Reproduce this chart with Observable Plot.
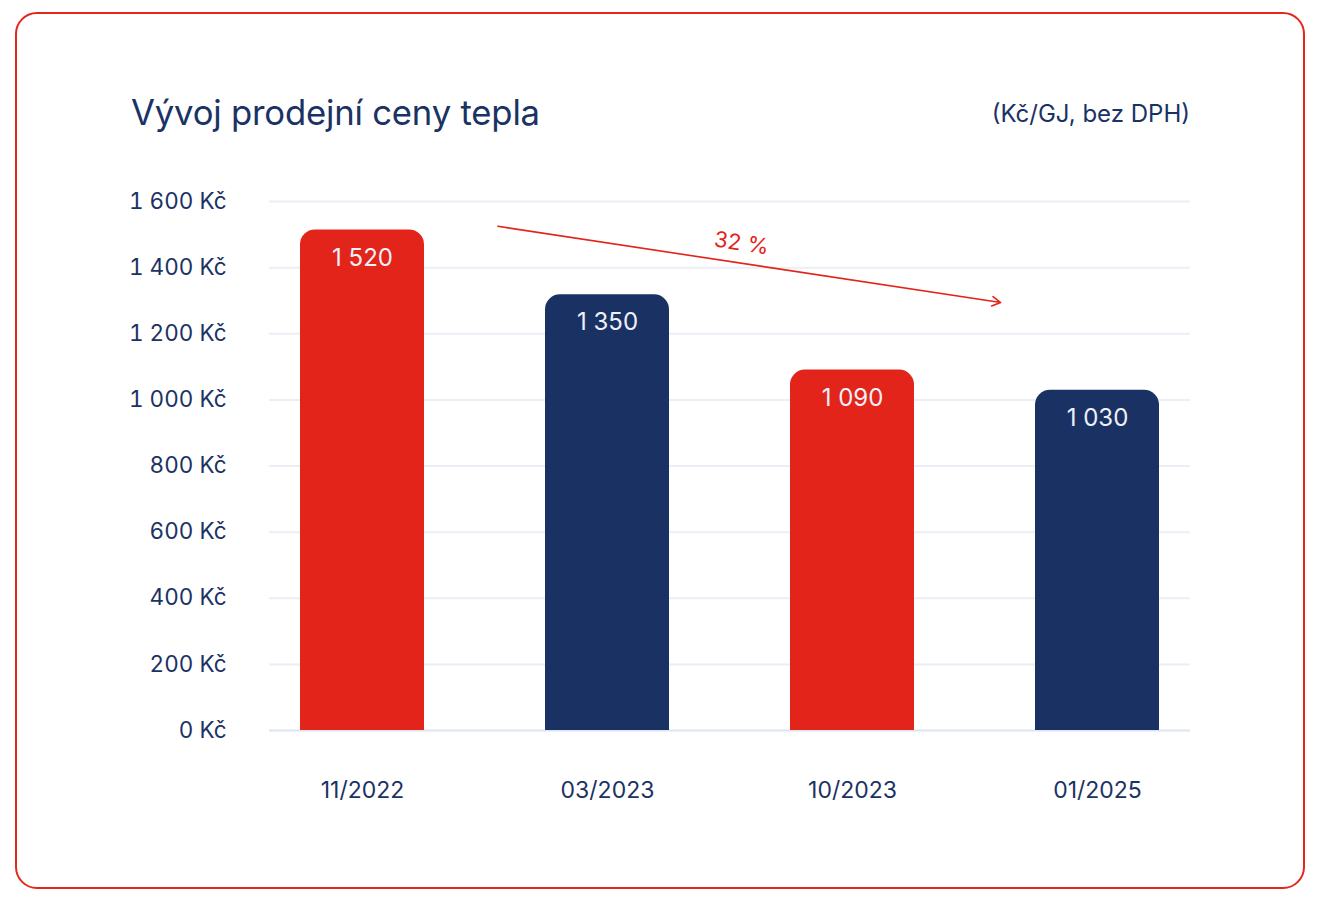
<!DOCTYPE html>
<html>
<head>
<meta charset="utf-8">
<script src="https://cdn.jsdelivr.net/npm/d3@7"></script>
<script src="https://cdn.jsdelivr.net/npm/@observablehq/plot@0.6"></script>
<style>
  html, body { margin: 0; padding: 0; background: #fff; }
  body { width: 1320px; height: 900px; position: relative; overflow: hidden; font-family: Inter, "Noto Sans", sans-serif; }
  #frame { position: absolute; left: 15px; top: 12px; width: 1286px; height: 873px; border: 2px solid #e5261a; border-radius: 22px; }
  #title { position: absolute; left: 131px; top: 91px; font-size: 34.7px; color: #1b3264; font-weight: 400; letter-spacing: -0.2px; }
  #unit { position: absolute; right: 130px; top: 99px; font-size: 24px; color: #1b3264; }
  #chart { position: absolute; left: 0; top: 170px; }
</style>
</head>
<body>
<div id="frame"></div>
<div id="title">Vývoj prodejní ceny tepla</div>
<div id="unit">(Kč/GJ, bez DPH)</div>
<div id="chart"></div>
<script>
const categories = ["11/2022", "03/2023", "10/2023", "01/2025"];
// bar heights as drawn in the picture
const barHeights = [1514, 1318, 1090, 1029];
// value labels printed on the bars
const valueLabels = ["1 520", "1 350", "1 090", "1 030"];
const barColors = ["#e3241a", "#1a3263", "#e3241a", "#1a3263"];
const yTicks = [0, 200, 400, 600, 800, 1000, 1200, 1400, 1600];
const changeLabel = ["32 %"];
const arrowFrom = ["11/2022", 1587];
const arrowTo = ["01/2025", 1250];

const data = categories.map((c, i) => ({category: c, height: barHeights[i], label: valueLabels[i]}));
const fmt = (v) => d3.format(",")(v).replace(/,/g, " ");

const navy = "#1b3264";
const red = "#e3241a";

const plot = Plot.plot({
  width: 1320,
  height: 650,
  marginLeft: 269,
  marginRight: 130,
  marginTop: 31,
  marginBottom: 90,
  style: {fontFamily: "Inter, 'Noto Sans', sans-serif", fontSize: "23px", color: navy, background: "transparent"},
  x: {domain: categories, type: "band", paddingInner: 0.494, paddingOuter: 0.1265, label: null},
  y: {domain: [0, 1600], label: null},
  color: {domain: categories, range: barColors},
  marks: [
    Plot.ruleY(yTicks.filter(t => t > 0), {stroke: "#eceef5", strokeWidth: 2}),
    Plot.ruleY([0], {stroke: "#dee4f0", strokeWidth: 2}),
    Plot.barY(data, {x: "category", y: "height", fill: "category", rx: 15}),
    Plot.barY(data, {x: "category", y: (d) => d.height / 2, fill: "category"}),
    Plot.text(data, {x: "category", y: "height", text: "label", fill: "#eef1f8", dy: 28, fontSize: 24, lineAnchor: "middle"}),
    Plot.arrow([{x1: arrowFrom[0], y1: arrowFrom[1], x2: arrowTo[0], y2: arrowTo[1]}], {
      x1: "x1", y1: "y1", x2: "x2", y2: "y2",
      stroke: red, strokeWidth: 1.6, headLength: 9, insetStart: 137, insetEnd: 98, bend: 0
    }),
    Plot.text(changeLabel, {x: () => categories[1], y: () => 1473, text: (d) => d, dx: 134, rotate: 8.6, fill: red, fontSize: 22, lineAnchor: "middle"}),
    Plot.axisY({ticks: yTicks, tickSize: 0, tickPadding: 43, tickFormat: (d) => fmt(d) + " Kč", fontSize: 22.5, label: null}),
    Plot.axisX({tickSize: 0, tickPadding: 51, fontSize: 23, label: null})
  ]
});
document.getElementById("chart").appendChild(plot);
</script>
</body>
</html>
